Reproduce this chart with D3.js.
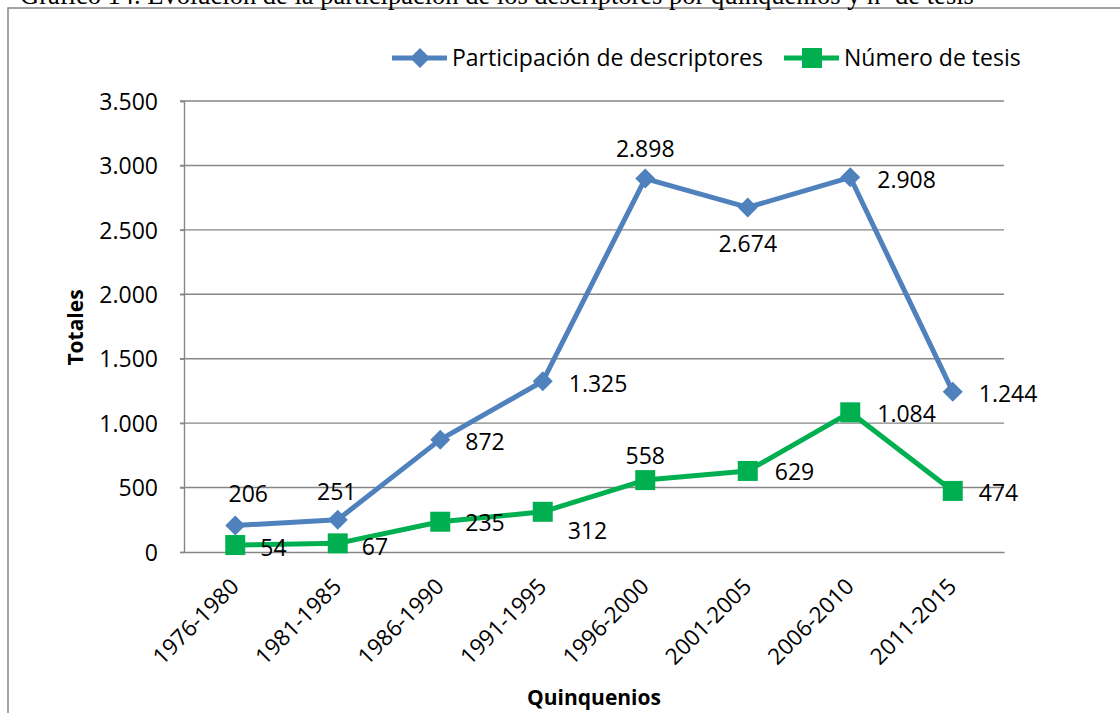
<!DOCTYPE html>
<html lang="es">
<head>
<meta charset="utf-8">
<title>Evolución de la participación de los descriptores</title>
<script src="https://cdn.jsdelivr.net/npm/d3@7"></script>
<style>
  html, body { margin: 0; padding: 0; background: #ffffff; }
  svg { display: block; }
  .lbl { font-family: "Open Sans", "Noto Sans", sans-serif; font-size: 23px; fill: #000; }
  .axis-title { font-family: "Open Sans", "Noto Sans", sans-serif; font-size: 21px; font-weight: bold; fill: #000; }
</style>
</head>
<body>
<svg id="chart" width="1120" height="713"></svg>
<script>
// Quinquennial periods
const categories = ["1976-1980", "1981-1985", "1986-1990", "1991-1995",
                    "1996-2000", "2001-2005", "2006-2010", "2011-2015"];
// Descriptor participation per period
const descriptores = [206, 251, 872, 1325, 2898, 2674, 2908, 1244];
// Number of theses per period
const tesis = [54, 67, 235, 312, 558, 629, 1084, 474];
// Value axis ticks
const yTicks = [0, 500, 1000, 1500, 2000, 2500, 3000, 3500];

const seriesNames = ["Participación de descriptores", "Número de tesis"];
const titleText = "Gráfico 14. Evolución de la participación de los descriptores por quinquenios y nº de tesis";

// Data-label placement: [dx, dy, anchor] relative to each marker
const blueLabelPlacement = [[13, -32, "middle"], [-1, -28, "middle"], [25, 2, "start"], [26, 2, "start"],
                            [0, -30, "middle"], [0, 36, "middle"], [27, 2, "start"], [26, 2, "start"]];
const greenLabelPlacement = [[25, 3, "start"], [24, 3, "start"], [25, 1, "start"], [25, 19, "start"],
                             [0, -24, "middle"], [27, 1, "start"], [27, 1, "start"], [26, 2, "start"]];

const BLUE = "#4F81BD";
const GREEN = "#00B050";
const GRID = "#868686";

const svg = d3.select("#chart");

// Spanish number format with "." as thousands separator
const locale = d3.formatLocale({ decimal: ",", thousands: ".", grouping: [3], currency: ["", " €"] });
const fmt = locale.format(",d");

const plot = { left: 184, right: 1004, top: 101, bottom: 552 };

const x = d3.scaleBand().domain(categories).range([plot.left, plot.right]).padding(0);
const cx = c => x(c) + x.bandwidth() / 2;
const y = d3.scaleLinear().domain([0, 3500]).range([plot.bottom, plot.top]);

// Outer frame
svg.append("rect")
  .attr("x", 8).attr("y", 8).attr("width", 1300).attr("height", 900)
  .attr("fill", "none").attr("stroke", GRID).attr("stroke-width", 1.5);

// Caption above the frame (its upper part lies beyond the page top)
svg.append("text")
  .attr("x", 20).attr("y", 4)
  .attr("font-family", "'Liberation Serif', 'DejaVu Serif', serif")
  .attr("font-size", 26.5)
  .text(titleText);

// Gridlines
svg.append("g")
  .selectAll("line")
  .data(yTicks.filter(t => t > 0))
  .join("line")
  .attr("x1", plot.left - 4).attr("x2", plot.right)
  .attr("y1", d => y(d)).attr("y2", d => y(d))
  .attr("stroke", GRID).attr("stroke-width", 1.4);

// Value axis
const yAxis = svg.append("g")
  .attr("transform", `translate(${plot.left},0)`)
  .call(d3.axisLeft(y).tickValues(yTicks).tickFormat(fmt).tickSize(4).tickPadding(22));
yAxis.select(".domain").attr("stroke", GRID).attr("stroke-width", 1.4);
yAxis.selectAll(".tick line").attr("stroke", GRID).attr("stroke-width", 1.4);
yAxis.selectAll(".tick text").attr("class", "lbl").attr("dy", "0.36em");

// Category axis
const xAxis = svg.append("g")
  .attr("transform", `translate(0,${plot.bottom})`)
  .call(d3.axisBottom(x).tickSize(0).tickPadding(0));
xAxis.select(".domain").attr("stroke", GRID).attr("stroke-width", 1.4);
xAxis.selectAll(".tick text")
  .attr("class", "lbl")
  .style("font-size", "22.5px")
  .attr("text-anchor", "end")
  .attr("dy", 0)
  .attr("y", 0)
  .attr("transform", "translate(5,36) rotate(-45)");

// Axis titles
svg.append("text")
  .attr("class", "axis-title")
  .attr("text-anchor", "middle")
  .attr("transform", `translate(83,${(plot.top + plot.bottom) / 2 + 1}) rotate(-90)`)
  .text("Totales");

svg.append("text")
  .attr("class", "axis-title")
  .attr("text-anchor", "middle")
  .attr("x", (plot.left + plot.right) / 2)
  .attr("y", 705)
  .text("Quinquenios");

// Series
const line = d3.line().x(d => cx(d.c)).y(d => y(d.v));
const blueData = categories.map((c, i) => ({ c, v: descriptores[i] }));
const greenData = categories.map((c, i) => ({ c, v: tesis[i] }));

const diamond = d3.symbol().type(d3.symbolSquare).size(200);
const square = d3.symbol().type(d3.symbolSquare).size(400);

function drawSeries(data, color, markerPath, rotate) {
  svg.append("path")
    .datum(data)
    .attr("d", line)
    .attr("fill", "none")
    .attr("stroke", color)
    .attr("stroke-width", 5)
    .attr("stroke-linejoin", "round");
  svg.append("g")
    .selectAll("path")
    .data(data)
    .join("path")
    .attr("d", markerPath)
    .attr("fill", color)
    .attr("transform", d => `translate(${cx(d.c)},${y(d.v)}) rotate(${rotate})`);
}

drawSeries(blueData, BLUE, diamond, 45);
drawSeries(greenData, GREEN, square, 0);

// Data labels
function drawLabels(data, placement) {
  svg.append("g")
    .selectAll("text")
    .data(data)
    .join("text")
    .attr("class", "lbl")
    .attr("x", (d, i) => cx(d.c) + placement[i][0])
    .attr("y", (d, i) => y(d.v) + placement[i][1])
    .attr("dy", "0.36em")
    .attr("text-anchor", (d, i) => placement[i][2])
    .text(d => fmt(d.v));
}
drawLabels(blueData, blueLabelPlacement);
drawLabels(greenData, greenLabelPlacement);

// Legend
const legend = svg.append("g");
const legendItems = [
  { name: seriesNames[0], color: BLUE, marker: diamond, rotate: 45, x0: 392 },
  { name: seriesNames[1], color: GREEN, marker: square, rotate: 0, x0: 784 }
];
legendItems.forEach(it => {
  const g = legend.append("g").attr("transform", `translate(${it.x0},58)`);
  g.append("line").attr("x1", 0).attr("x2", 55).attr("y1", 0).attr("y2", 0)
    .attr("stroke", it.color).attr("stroke-width", 5);
  g.append("path").attr("d", it.marker).attr("fill", it.color)
    .attr("transform", `translate(28,0) rotate(${it.rotate})`);
  g.append("text").attr("class", "lbl").attr("x", 60).attr("y", 0).attr("dy", "0.36em").text(it.name);
});
</script>
</body>
</html>
